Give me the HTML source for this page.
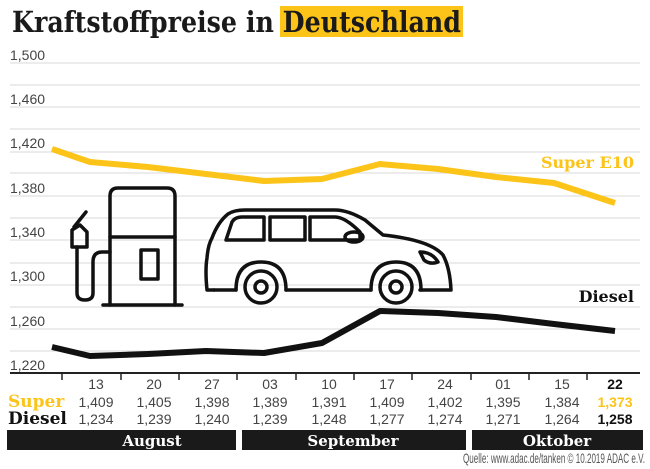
<!DOCTYPE html>
<html><head><meta charset="utf-8"><style>
html,body{margin:0;padding:0;background:#fff}
svg{display:block}
.t{font-family:"Liberation Sans",sans-serif;fill:#444;font-size:14px}
.s{font-family:"DejaVu Serif","Liberation Serif",serif;font-weight:bold}
</style></head><body>
<svg width="650" height="469" viewBox="0 0 650 469" xmlns="http://www.w3.org/2000/svg">
<rect x="280" y="6" width="183" height="31" fill="#fcc419"/>
<text x="12" y="32" class="s" font-size="29" fill="#1a1a1a" textLength="449" lengthAdjust="spacingAndGlyphs">Kraftstoffpreise in Deutschland</text>
<g stroke="#d8d8d8" stroke-width="1">
<line x1="10" y1="63" x2="640" y2="63"/><line x1="10" y1="85" x2="640" y2="85"/>
<line x1="10" y1="107" x2="640" y2="107"/><line x1="10" y1="129" x2="640" y2="129"/>
<line x1="10" y1="152" x2="640" y2="152"/><line x1="10" y1="173" x2="640" y2="173"/>
<line x1="10" y1="196" x2="640" y2="196"/><line x1="10" y1="218" x2="640" y2="218"/>
<line x1="10" y1="240" x2="640" y2="240"/><line x1="10" y1="263" x2="640" y2="263"/>
<line x1="10" y1="285" x2="640" y2="285"/><line x1="10" y1="307" x2="640" y2="307"/>
<line x1="10" y1="329" x2="640" y2="329"/><line x1="10" y1="351" x2="640" y2="351"/>
</g>
<g class="t" font-size="15">
<text x="10" y="60">1,500</text><text x="10" y="104">1,460</text><text x="10" y="148">1,420</text>
<text x="10" y="193">1,380</text><text x="10" y="237">1,340</text><text x="10" y="281">1,300</text>
<text x="10" y="326">1,260</text><text x="10" y="370">1,220</text>
</g>
<line x1="10" y1="373" x2="640" y2="373" stroke="#222" stroke-width="2"/>
<g stroke="#222" stroke-width="1.5">
<line x1="62" y1="373" x2="62" y2="380"/><line x1="121" y1="373" x2="121" y2="380"/>
<line x1="179" y1="373" x2="179" y2="380"/><line x1="237" y1="373" x2="237" y2="380"/>
<line x1="296" y1="373" x2="296" y2="380"/><line x1="354" y1="373" x2="354" y2="380"/>
<line x1="412" y1="373" x2="412" y2="380"/><line x1="471" y1="373" x2="471" y2="380"/>
<line x1="529" y1="373" x2="529" y2="380"/><line x1="587" y1="373" x2="587" y2="380"/>
</g>
<polyline fill="none" stroke="#fcc419" stroke-width="6" stroke-linejoin="round" points="52,149 90,162 148,167 206,174 264,181 322,179 380,164 438,169 496,177 554,183 615,203"/>
<polyline fill="none" stroke="#111" stroke-width="6" stroke-linejoin="round" points="52,347 90,356 148,354 206,351 264,353 322,343 380,311 438,313 496,317 554,324 615,331"/>
<text x="634" y="168" text-anchor="end" class="s" font-size="16" fill="#fcc419">Super E10</text>
<text x="634" y="302" text-anchor="end" class="s" font-size="16" fill="#111">Diesel</text>
<g fill="none" stroke="#111" stroke-width="3.5" stroke-linejoin="round" stroke-linecap="round">
<path d="M110,305 V196 Q110,188 118,188 H167 Q175,188 175,196 V305"/>
<line x1="103" y1="305" x2="182" y2="305"/>
<line x1="110" y1="237" x2="175" y2="237"/>
<rect x="141" y="250" width="17" height="29"/>
<path d="M110,252 H102 Q93,252 93,262 V293 Q93,300 85,300 Q77,300 77,293 V247"/>
<path d="M72,247 H87 V232 L80,225 L72,230 Z"/>
<line x1="74" y1="227" x2="86" y2="212"/>
<path d="M214,290 H207 Q205,270 207,258 Q208,245 212,238 Q218,222 228,214 Q234,210 245,210 H335 Q348,210 365,220 L383,235 Q430,240 443,255 Q450,268 451,290 H420"/>
<path d="M236,290 Q236,262 261,262 Q286,262 286,290 M371,290 Q371,262 396,262 Q421,262 421,290"/>
<line x1="286" y1="290" x2="371" y2="290"/>
<line x1="214" y1="290" x2="236" y2="290"/>
<circle cx="261" cy="287" r="16"/><circle cx="261" cy="287" r="6"/>
<circle cx="396" cy="287" r="16"/><circle cx="396" cy="287" r="6"/>
<path d="M226,240 L232,222 Q235,217 242,217 H264 V240 Z"/>
<rect x="270" y="217" width="35" height="23"/>
<path d="M310,217 H335 Q345,217 360,232 V240 H310 Z"/>
<ellipse cx="354" cy="237" rx="9" ry="5"/>
<path d="M420,252 Q432,252 438,262 Q430,265 424,260 Z"/>
</g>
<g class="t" text-anchor="middle" font-size="15">
<text x="96" y="389">13</text><text x="154" y="389">20</text><text x="212" y="389">27</text>
<text x="270" y="389">03</text><text x="329" y="389">10</text><text x="387" y="389">17</text>
<text x="445" y="389">24</text><text x="503" y="389">01</text><text x="562" y="389">15</text>
<text x="615" y="389" style="fill:#111;font-weight:bold">22</text>
<text x="96" y="407">1,409</text><text x="154" y="407">1,405</text><text x="212" y="407">1,398</text>
<text x="270" y="407">1,389</text><text x="329" y="407">1,391</text><text x="387" y="407">1,409</text>
<text x="445" y="407">1,402</text><text x="503" y="407">1,395</text><text x="562" y="407">1,384</text>
<text x="615" y="407" style="fill:#fcc419;font-weight:bold">1,373</text>
<text x="96" y="424">1,234</text><text x="154" y="424">1,239</text><text x="212" y="424">1,240</text>
<text x="270" y="424">1,239</text><text x="329" y="424">1,248</text><text x="387" y="424">1,277</text>
<text x="445" y="424">1,274</text><text x="503" y="424">1,271</text><text x="562" y="424">1,264</text>
<text x="615" y="424" style="fill:#111;font-weight:bold">1,258</text>
</g>
<text x="8" y="407" class="s" font-size="17" fill="#fcc419">Super</text>
<text x="8" y="424" class="s" font-size="17" fill="#111">Diesel</text>
<rect x="7" y="430" width="229" height="20" fill="#1a1a1a"/>
<rect x="242" y="430" width="224" height="20" fill="#1a1a1a"/>
<rect x="472" y="430" width="171" height="20" fill="#1a1a1a"/>
<g class="s" font-size="15" fill="#fff" text-anchor="middle">
<text x="152" y="446">August</text><text x="353" y="446">September</text><text x="557" y="446">Oktober</text>
</g>
<text x="463" y="463" class="t" font-size="7" style="fill:#555" textLength="182" lengthAdjust="spacingAndGlyphs">Quelle: www.adac.de/tanken  © 10.2019  ADAC e.V.</text>
</svg>
</body></html>
